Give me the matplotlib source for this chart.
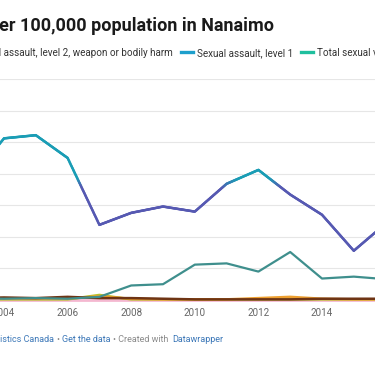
import numpy as np
import matplotlib
matplotlib.use('Agg')
import matplotlib.pyplot as plt
from matplotlib.collections import LineCollection
from matplotlib.colors import to_rgb
from matplotlib.lines import Line2D

plt.rcParams['font.family'] = ['Roboto', 'DejaVu Sans']

# ---------------- data ----------------
years = [2003, 2004, 2005, 2006, 2007, 2008, 2009, 2010, 2011, 2012, 2013, 2014, 2015, 2016]
level1 = [194, 256, 261, 225, 119, 138, 148, 140, 184, 206, 167, 135, 78, 121]
total_children = [3, 2, 3, 2, 5, 23, 25, 56, 58, 45, 76, 34, 37, 33]
level2 = [3, 4, 3, 5, 3, 3, 2, 1, 1, 1, 1, 2, 2, 2]
other_orange = [2, 2, 2, 2, 6, 2, 1, 1, 1, 3, 5, 2, 1, 1]
other_yellow = [1, 1, 1, 1, 8, 1, 1, 1, 1, 1, 1, 1, 1, 1]
level3 = [0, 0, 0, 0, 0, 0, 0, 0, 0, 0, 0, 0, 0, 0]
tick_years = [2004, 2006, 2008, 2010, 2012, 2014]
grid_values = [50, 100, 150, 200, 250, 300, 350]

legend_labels = ["Sexual assault, level 2, weapon or bodily harm",
                 "Sexual assault, level 1",
                 "Total sexual violations against children"]
title = "Sexual offences per 100,000 population in Nanaimo"

W, H = 375, 366
fig = plt.figure(figsize=(W / 100, H / 100), dpi=100)

# axes: x spans full width; baseline at 300px from top, 350 at 79px
px_per_year = 31.8
x0 = 2004 - 4 / px_per_year
x1 = 2004 + (W - 4) / px_per_year
ax_bottom = (H - 300) / H
ax_top = (H - 79) / H
ax = fig.add_axes([0, ax_bottom, 1, ax_top - ax_bottom])
ax.set_xlim(x0, x1)
ax.set_ylim(0, 350)
for s in ax.spines.values():
    s.set_visible(False)
ax.set_yticks([])
ax.set_xticks(tick_years)
ax.set_xticklabels([str(y) for y in tick_years])
ax.tick_params(axis='x', length=0, pad=5.5, labelsize=7.1, labelcolor='#666666')
ax.patch.set_alpha(0)

for g in grid_values:
    ax.axhline(g, color='#e6e6e6', lw=0.8, zorder=0)

def plain(vals, color, lw, z):
    ax.plot(years, vals, color=color, lw=lw, zorder=z, clip_on=False,
            solid_joinstyle='round', solid_capstyle='round')

plain(level3, '#f4b8d0', 2.0, 2)
plain(other_yellow, '#b8c228', 1.8, 3)
plain(other_orange, '#eea030', 1.8, 4)
plain(level2, '#6e3414', 1.8, 5)
plain(total_children, '#3f8f8d', 1.6, 6)

# gradient-coloured line for level 1
low_c = np.array(to_rgb('#5659b2'))
high_c = np.array(to_rgb('#1a9db5'))
xs, ys = [], []
for i in range(len(years) - 1):
    t = np.linspace(0, 1, 40, endpoint=False)
    xs.extend(years[i] + (years[i + 1] - years[i]) * t)
    ys.extend(level1[i] + (level1[i + 1] - level1[i]) * t)
xs.append(years[-1]); ys.append(level1[-1])
xs = np.array(xs); ys = np.array(ys)
pts = np.column_stack([xs, ys]).reshape(-1, 1, 2)
segs = np.concatenate([pts[:-1], pts[1:]], axis=1)
mid = (ys[:-1] + ys[1:]) / 2
f = np.clip((mid - 178) / 14, 0, 1)[:, None]
cols = low_c * (1 - f) + high_c * f
lc = LineCollection(segs, colors=cols, linewidths=1.8, zorder=7,
                    capstyle='round', joinstyle='round')
lc.set_clip_on(False)
ax.add_collection(lc)

# ---------------- texts ----------------
def fx(px):
    return px / W

def fy(py):
    return 1 - py / H

fig.text(fx(274), fy(31), title, ha='right', va='baseline', fontsize=13.0,
         fontweight='bold', color='#1a1a1a')

leg_fs = 7.1
fig.text(fx(173), fy(56), legend_labels[0], ha='right', va='baseline',
         fontsize=leg_fs, color='#333333')
fig.add_artist(Line2D([fx(181), fx(193)], [fy(52), fy(52)], color='#1d9fcc', lw=2.4,
                      transform=fig.transFigure))
fig.text(fx(197), fy(56), legend_labels[1], ha='left', va='baseline',
         fontsize=leg_fs, color='#333333')
fig.add_artist(Line2D([fx(301), fx(313)], [fy(52), fy(52)], color='#1fbf9e', lw=2.4,
                      transform=fig.transFigure))
fig.text(fx(317), fy(56), legend_labels[2], ha='left', va='baseline',
         fontsize=leg_fs, color='#333333')

foot_fs = 6.5
blue = '#3d78b8'
grey = '#8a8a8a'
fig.text(fx(54), fy(342), "Source: Statistics Canada", ha='right', va='baseline',
         fontsize=foot_fs, color=blue)
fig.text(fx(56.5), fy(342), "•", ha='left', va='baseline', fontsize=foot_fs, color=grey)
fig.text(fx(62), fy(342), "Get the data", ha='left', va='baseline', fontsize=foot_fs, color=blue)
fig.text(fx(113.5), fy(342), "• Created with", ha='left', va='baseline', fontsize=foot_fs, color=grey)
fig.text(fx(172), fy(342), "Datawrapper", ha='left', va='baseline', fontsize=foot_fs, color=blue)

fig.savefig('out.png', dpi=100, facecolor='white')
